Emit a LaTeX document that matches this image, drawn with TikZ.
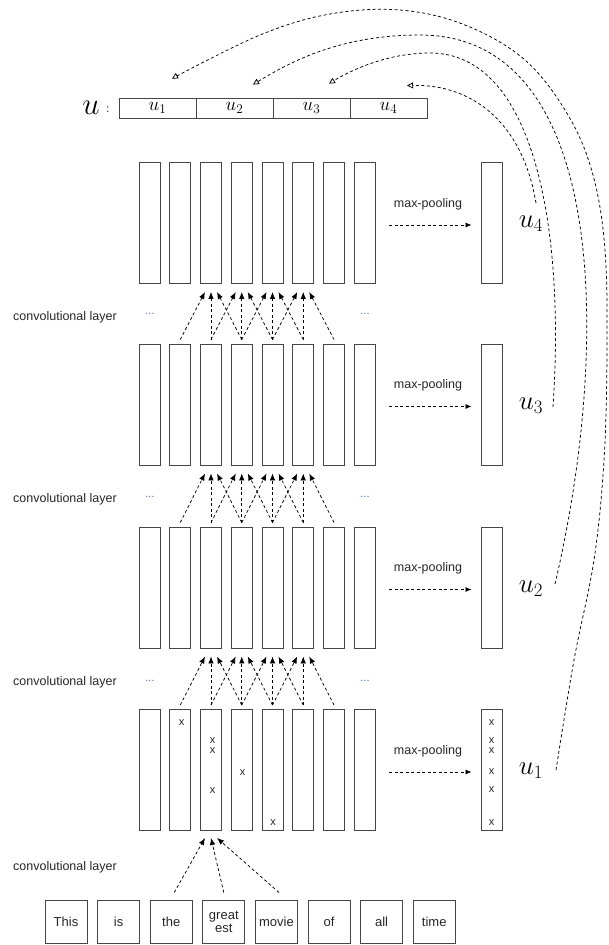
\RequirePackage{fix-cm}
\documentclass[tikz,border=0pt]{standalone}
\usepackage{fontspec}
\setsansfont{Liberation Sans}
\usetikzlibrary{arrows.meta}
\definecolor{dotblue}{RGB}{80,105,165}
\definecolor{linegray}{RGB}{70,70,70}
\begin{document}
\begin{tikzpicture}[x=1pt,y=-1pt,
  colbox/.style={draw=linegray, line width=0.9pt, rectangle, inner sep=0pt, minimum width=21pt, minimum height=121pt},
  wordbox/.style={draw=linegray, line width=0.9pt, rectangle, inner sep=0pt, minimum width=42pt, minimum height=43pt, font=\sffamily\fontsize{13}{15}\selectfont, align=center, text=black!85},
  cellbox/.style={draw=linegray, line width=0.9pt, rectangle, inner sep=0pt, minimum width=77pt, minimum height=20pt, font=\fontsize{19}{20}\selectfont},
  lbl/.style={font=\sffamily\fontsize{12.5}{14}\selectfont, text=black!85, inner sep=0pt},
  ulbl/.style={font=\fontsize{27}{30}\selectfont, inner sep=0pt},
  xmark/.style={font=\sffamily\fontsize{11}{12}\selectfont, inner sep=0pt, text=black!85},
  dotstyle/.style={font=\sffamily\fontsize{11}{12}\selectfont, inner sep=0pt, text=dotblue},
  convarrow/.style={draw=black, line width=0.75pt, dash pattern=on 3pt off 2.5pt, -{Latex[length=7pt,width=5.5pt]}},
  poolarrow/.style={draw=black, line width=0.75pt, dash pattern=on 3pt off 2.5pt, -{Latex[length=6pt,width=5pt]}},
  ucurve/.style={draw=black, line width=0.75pt, dash pattern=on 3pt off 2.5pt, -{Triangle[open,length=6pt,width=6pt]}}
]
\useasboundingbox (0,0) rectangle (608,945);
\clip (0,0) rectangle (608,945);

% layers of columns, pooled columns, labels
\foreach \r/\yc in {1/770,2/587.5,3/404.5,4/223}{
  \foreach \i in {1,...,8}{
    \node[colbox] (c-\r-\i) at ({149.5+30.75*(\i-1)},\yc) {};
  }
  \node[colbox] (p-\r) at (491.5,\yc) {};
  \node[lbl] (mp-\r) at (428,\yc-19) {max-pooling};
  \coordinate (ms-\r) at (389,\yc+2);
  \draw[poolarrow] (ms-\r) -- ([xshift=-9pt,yshift=-2pt]p-\r.west);
  \node[ulbl] (ul-\r) at (531,\yc+1) {$u_{\r}$};
}

% convolution arrows between layers
\foreach \r/\rr in {1/2,2/3,3/4}{
  \foreach \j in {3,4,5,6}{
    \foreach \d in {-1,0,1}{
      \pgfmathtruncatemacro\s{\j+\d}
      \pgfmathsetmacro\off{6*\d}
      \draw[convarrow] ([yshift=4pt]c-\r-\s.north) -- ([xshift=\off pt, yshift=-8pt]c-\rr-\j.south);
    }
  }
}

% dots and layer labels
\foreach \k/\yy in {3/314,2/497,1/681}{
  \node[dotstyle, anchor=base] (dl-\k) at (150,\yy) {...};
  \node[dotstyle, anchor=base] (dr-\k) at (365,\yy) {...};
}
\foreach \k/\yy in {4/317,3/499,2/682,1/867}{
  \node[lbl, anchor=west] (cl-\k) at (13,\yy) {convolutional layer};
}

% words
\foreach \w [count=\i] in {This,is,the,{great\\[-2pt]est},movie,of,all,time}{
  \node[wordbox] (w-\i) at ({66+52.6*(\i-1)},921.5) {\w};
}
\draw[convarrow] ([xshift=3pt,yshift=7pt]w-3.north) -- ([xshift=-6pt,yshift=-7pt]c-1-3.south);
\draw[convarrow] ([yshift=7pt]w-4.north) -- ([yshift=-7pt]c-1-3.south);
\draw[convarrow] ([xshift=2.6pt,yshift=7pt]w-5.north) -- ([xshift=6pt,yshift=-7pt]c-1-3.south);

% x marks in first layer
\node[xmark] (x-a) at (181.5,723) {x};
\node[xmark] (x-b) at (212.5,741) {x};
\node[xmark] (x-c) at (212.5,751) {x};
\node[xmark] (x-d) at (212.5,791) {x};
\node[xmark] (x-e) at (242.5,773) {x};
\node[xmark] (x-f) at (273,823) {x};
\node[xmark] (px-a) at (491.5,723) {x};
\node[xmark] (px-b) at (491.5,741) {x};
\node[xmark] (px-c) at (491.5,751) {x};
\node[xmark] (px-d) at (491.5,772) {x};
\node[xmark] (px-e) at (491.5,790) {x};
\node[xmark] (px-f) at (491.5,823) {x};

% vector u
\node[inner sep=0pt, font=\fontsize{31}{33}\selectfont] (ubig) at (91,108) {$u$};
\node[inner sep=0pt, font=\fontsize{13}{14}\selectfont] (ucolon) at (108,110) {$:$};
\foreach \i in {1,...,4}{
  \node[cellbox] (v-\i) at ({157.5+77*(\i-1)},108) {$u_{\i}$};
}
\coordinate (t-1) at ([xshift=14.5pt,yshift=19pt]v-1.north);
\coordinate (t-2) at ([xshift=18.5pt,yshift=13pt]v-2.north);
\coordinate (t-3) at ([xshift=17.5pt,yshift=14pt]v-3.north);
\coordinate (t-4) at ([xshift=18.5pt,yshift=12pt]v-4.north);
\coordinate (s-1) at (556,770);
\coordinate (s-2) at (555,584);
\coordinate (s-3) at (553,407);
\coordinate (s-4) at (536,203);

\draw[ucurve] (s-4) .. controls (522,120) and (470,84) .. (t-4);
\draw[ucurve] (s-3) .. controls (565,230) and (535,53) .. (430,53) .. controls (390,53) and (355,68) .. (t-3);
\draw[ucurve] (s-2) .. controls (610,350) and (610,35) .. (420,35) .. controls (340,35) and (290,62) .. (t-2);
\draw[ucurve] plot[smooth, tension=0.6] coordinates {(s-1) (574,660) (594,560) (604,460) (607,350) (605,250) (593,175) (568,115) (525,60) (465,25) (400,10) (330,14) (260,35) (t-1)};
\end{tikzpicture}
\end{document}
